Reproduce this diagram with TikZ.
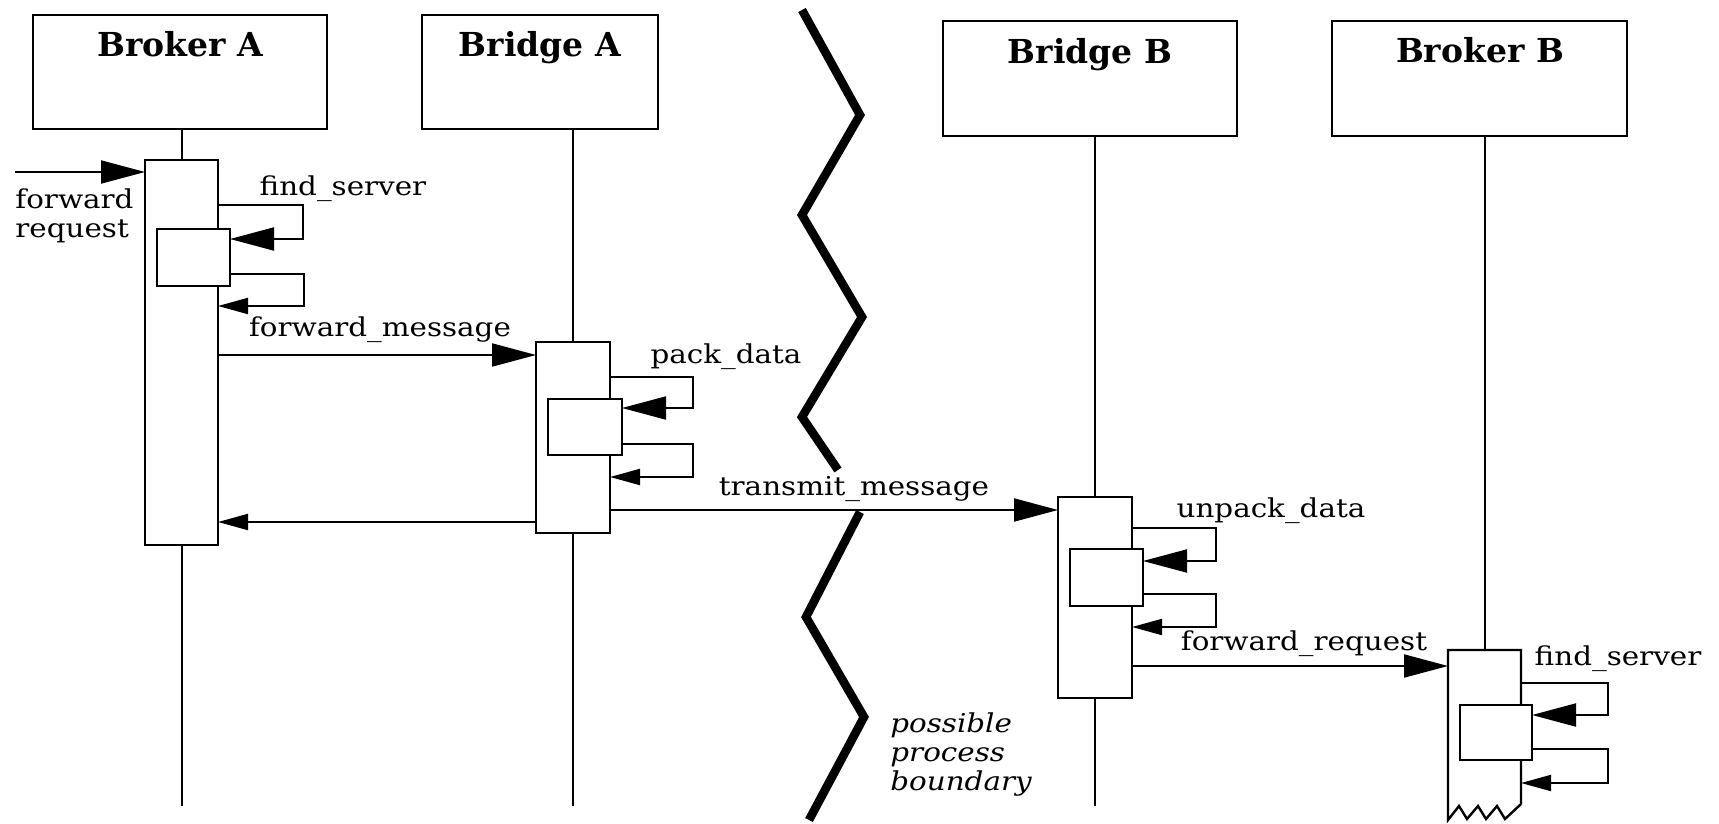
\documentclass[tikz,border=0pt]{standalone}
\usepackage{fontspec}
\setmainfont{DejaVu Serif}
\newfontfamily\lblfont{DejaVu Serif}[FakeStretch=1.13]
\usetikzlibrary{arrows.meta,calc}
\begin{document}
\begin{tikzpicture}[x=0.5pt,y=-0.5pt,
  box/.style={draw, line width=1.2pt, inner sep=0pt, outer sep=0pt, anchor=north west, fill=white},
  ttl/.style={font=\fontsize{16.5}{18}\selectfont\bfseries, inner sep=0pt, anchor=base},
  lbl/.style={font=\lblfont\fontsize{13}{14.5}\selectfont, inner sep=0pt, anchor=base},
  life/.style={line width=1pt},
  big/.style={line width=1pt, -{Triangle[length=22pt,width=11.5pt]}},
  small/.style={line width=1pt, -{Triangle[length=15pt,width=8pt]}},
  bound/.style={line width=4.3pt, line join=miter, line cap=butt}]
\useasboundingbox (0,0) rectangle (1719,824);

% header boxes
\node[box, minimum width=147pt, minimum height=57pt] (hA) at (33,15) {};
\node[ttl] (tA) at (180,57) {Broker A};
\node[box, minimum width=118pt, minimum height=57pt] (hBA) at (422,15) {};
\node[ttl] (tBA) at (540,57) {Bridge A};
\node[box, minimum width=147pt, minimum height=57.5pt] (hBB) at (943,21) {};
\node[ttl] (tBB) at (1090,64) {Bridge B};
\node[box, minimum width=147.5pt, minimum height=57.5pt] (hB) at (1332,21) {};
\node[ttl] (tB) at (1480,63) {Broker B};

% activation boxes
\node[box, minimum width=36.5pt, minimum height=192.5pt] (actA) at (145,160) {};
\node[box, minimum width=37pt, minimum height=95.5pt] (actBA) at (536,342) {};
\node[box, minimum width=37pt, minimum height=100.5pt] (actBB) at (1058,497) {};
\node[inner sep=0pt, outer sep=0pt, anchor=north west, minimum width=36.5pt, minimum height=85pt] (actB) at (1448,650) {};
\draw[line width=1.2pt, line join=miter] (1521,804) -- (actB.north east) -- (actB.north west) -- (1448,820)
  -- (1459,806) -- (1467,819) -- (1478,806) -- (1486,819) -- (1497,806) -- (1505,819) -- (1521,804);

% lifelines
\coordinate (bot) at (0,806);
\draw[life] (actA.north |- hA.south) -- (actA.north);
\draw[life] (actA.south) -- (actA.south |- bot);
\draw[life] (actBA.north |- hBA.south) -- (actBA.north);
\draw[life] (actBA.south) -- (actBA.south |- bot);
\draw[life] (actBB.north |- hBB.south) -- (actBB.north);
\draw[life] (actBB.south) -- (actBB.south |- bot);
\draw[life] (actB.north |- hB.south) -- (actB.north);

% nested activations
\node[box, minimum width=36.5pt, minimum height=28.5pt] (subA) at (157,229) {};
\node[box, minimum width=37pt, minimum height=28pt] (subBA) at (548,399) {};
\node[box, minimum width=36.5pt, minimum height=28.5pt] (subBB) at (1070,549) {};
\node[box, minimum width=36pt, minimum height=27.5pt] (subB) at (1460,705) {};

% self calls
\draw[big] ($(actA.north east)+(0,45)$) -- ++(85,0) |- ($(subA.north east)+(0,10)$);
\draw[small] ($(subA.south east)+(0,-12)$) -- ++(74,0) |- ($(actA.north east)+(0,146)$);
\draw[big] ($(actBA.north east)+(0,35)$) -- ++(83,0) |- ($(subBA.north east)+(0,9)$);
\draw[small] ($(subBA.south east)+(0,-11)$) -- ++(71,0) |- ($(actBA.north east)+(0,135)$);
\draw[big] ($(actBB.north east)+(0,31)$) -- ++(84,0) |- ($(subBB.north east)+(0,12)$);
\draw[small] ($(subBB.south east)+(0,-12)$) -- ++(73,0) |- ($(actBB.north east)+(0,130)$);
\draw[big] ($(actB.north east)+(0,33)$) -- ++(87,0) |- ($(subB.north east)+(0,10)$);
\draw[small] ($(subB.south east)+(0,-11)$) -- ++(76,0) |- ($(actB.north east)+(0,133)$);

% messages
\coordinate (inA) at (15,172);
\draw[big] (inA) -- (actA.west |- inA);
\coordinate (fm) at ($(actBA.north west)+(0,13)$);
\draw[big] (actA.east |- fm) -- (fm);
\coordinate (rt) at ($(actBA.north west)+(0,180)$);
\draw[small] (rt) -- (actA.east |- rt);
\coordinate (tm) at ($(actBB.north west)+(0,13)$);
\draw[big] (actBA.east |- tm) -- (tm);
\coordinate (fr) at ($(actB.north west)+(0,16)$);
\draw[big] (actBB.east |- fr) -- (fr);

% process boundary
\draw[bound] (802,10) -- (860,115) -- (802,215) -- (862,317) -- (802,417) -- (838,470);
\draw[bound] (860,512) -- (806,617) -- (864,717) -- (809,820);

% labels
\node[lbl, anchor=west, align=left] (lin) at (15,216) {forward\\request};
\node[lbl] (l1) at (343,195) {find\_server};
\node[lbl] (l2) at (380,336) {forward\_message};
\node[lbl] (l3) at (726,363) {pack\_data};
\node[lbl] (l4) at (854,495) {transmit\_message};
\node[lbl] (l5) at (1271,517) {unpack\_data};
\node[lbl] (l6) at (1304,650) {forward\_request};
\node[lbl] (l7) at (1618,665) {find\_server};
\node[lbl, anchor=west, align=left, font=\lblfont\itshape\fontsize{13}{14.5}\selectfont] (l8) at (890,755) {possible\\process\\boundary};
\end{tikzpicture}
\end{document}
